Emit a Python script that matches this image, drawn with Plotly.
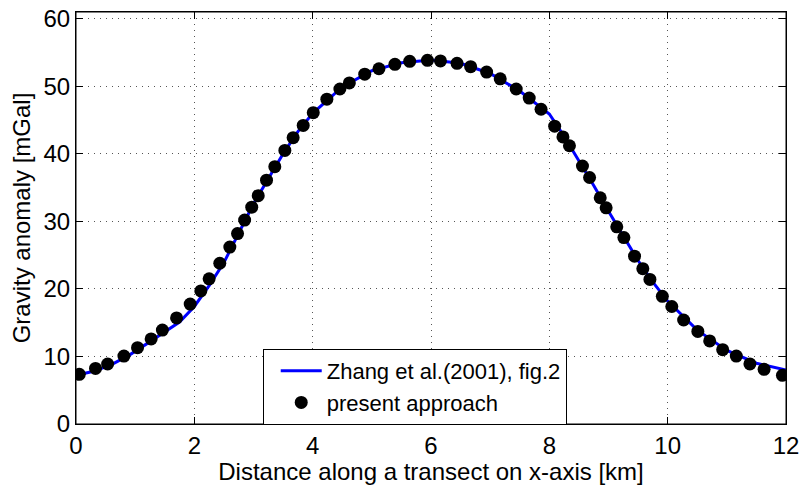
import plotly.graph_objects as go

# Reference curve: Zhang et al. (2001), fig.2
line_x = [0.0, 0.3, 0.6, 0.9, 1.2, 1.5, 1.75, 2.0, 2.25, 2.5, 2.75, 3.0, 3.25, 3.5,
          3.75, 4.0, 4.5, 5.0, 5.5, 6.0, 6.5, 7.0, 7.5, 8.0, 8.25, 8.5, 8.75, 9.0,
          9.25, 9.5, 9.75, 10.0, 10.5, 11.0, 11.5, 12.0]
line_y = [7.2, 7.8, 8.8, 10.2, 11.9, 13.7, 15.1, 17.4, 20.5, 23.9, 28.3, 32.6, 36.3, 40.0,
          43.3, 46.0, 49.9, 52.3, 53.5, 53.9, 53.4, 51.9, 49.3, 45.9, 42.6, 39.0, 35.3, 31.5,
          27.9, 24.2, 21.0, 18.2, 13.9, 10.9, 9.0, 8.0]

# Present approach (dots)
pts_x = [0.056, 0.33, 0.535, 0.81, 1.04, 1.27, 1.46, 1.70, 1.93, 2.11, 2.25, 2.43, 2.60,
         2.73, 2.85, 2.97, 3.08, 3.22, 3.36, 3.53, 3.67, 3.84, 4.01, 4.24, 4.46, 4.62,
         4.88, 5.12, 5.39, 5.64, 5.94, 6.16, 6.44, 6.67, 6.94, 7.17, 7.44, 7.66, 7.86,
         8.09, 8.23, 8.34, 8.56, 8.68, 8.86, 8.96, 9.14, 9.26, 9.44, 9.58, 9.70, 9.91,
         10.07, 10.27, 10.51, 10.71, 10.93, 11.16, 11.39, 11.63, 11.94]
pts_y = [7.35, 8.23, 8.88, 10.06, 11.3, 12.6, 13.9, 15.7, 17.75, 19.7, 21.5, 23.8, 26.2,
         28.2, 30.2, 32.1, 33.8, 36.1, 38.1, 40.5, 42.4, 44.2, 46.1, 48.1, 49.6, 50.5,
         51.8, 52.6, 53.25, 53.7, 53.85, 53.75, 53.4, 52.9, 52.1, 51.1, 49.6, 48.25, 46.6,
         44.1, 42.5, 41.2, 38.2, 36.5, 33.5, 32.0, 29.2, 27.6, 24.85, 23.0, 21.4, 18.9,
         17.4, 15.4, 13.7, 12.3, 11.0, 10.06, 8.9, 8.1, 7.2]

x_ticks = [0, 2, 4, 6, 8, 10, 12]
y_ticks = [0, 10, 20, 30, 40, 50, 60]

FONT = "Liberation Sans, Arial, Helvetica, sans-serif"
FS = 24

fig = go.Figure()
fig.add_trace(go.Scatter(x=line_x, y=line_y, mode="lines",
                         line=dict(color="#0000FF", width=3),
                         name="Zhang et al.(2001), fig.2"))
fig.add_trace(go.Scatter(x=pts_x, y=pts_y, mode="markers",
                         marker=dict(color="black", size=13, symbol="circle"),
                         name="present approach"))

axis_common = dict(showline=True, linecolor="black", linewidth=1, mirror="ticks",
                   ticks="inside", ticklen=7, tickcolor="black",
                   showgrid=True, gridcolor="#555555", griddash="1px,5px", gridwidth=1,
                   zeroline=False, automargin=False, ticklabeloverflow="allow",
                   tickfont=dict(size=FS, color="black", family=FONT))

fig.update_xaxes(range=[0, 12], tickvals=x_ticks,
                 title=dict(text="Distance along a transect on x-axis [km]",
                            font=dict(size=FS, color="black", family=FONT), standoff=0),
                 **axis_common)
fig.update_yaxes(range=[0, 61], tickvals=y_ticks,
                 title=dict(text="Gravity anomaly [mGal]",
                            font=dict(size=FS, color="black", family=FONT), standoff=6),
                 **axis_common)

fig.update_layout(
    width=800, height=485,
    margin=dict(l=76, r=14, t=12, b=61, pad=0),
    plot_bgcolor="white", paper_bgcolor="white",
    font=dict(family=FONT, size=FS, color="black"),
    legend=dict(x=0.263, y=0.182, xanchor="left", yanchor="top",
                bgcolor="white", bordercolor="black", borderwidth=1,
                font=dict(size=22, color="black", family=FONT),
                tracegroupgap=0, itemwidth=41, indentation=12),
    showlegend=True,
    # axes frame (box around the plotting area)
    shapes=[dict(type="rect", xref="paper", yref="paper", x0=0, x1=1, y0=0, y1=1,
                 line=dict(color="black", width=1), fillcolor="rgba(0,0,0,0)",
                 layer="above")],
)

# Remove the default page margin so the 800x485 figure fills the window exactly.
fig.write_html("out.html", config={"displayModeBar": False},
               post_script="document.body.style.margin='0';document.body.style.overflow='hidden';")
